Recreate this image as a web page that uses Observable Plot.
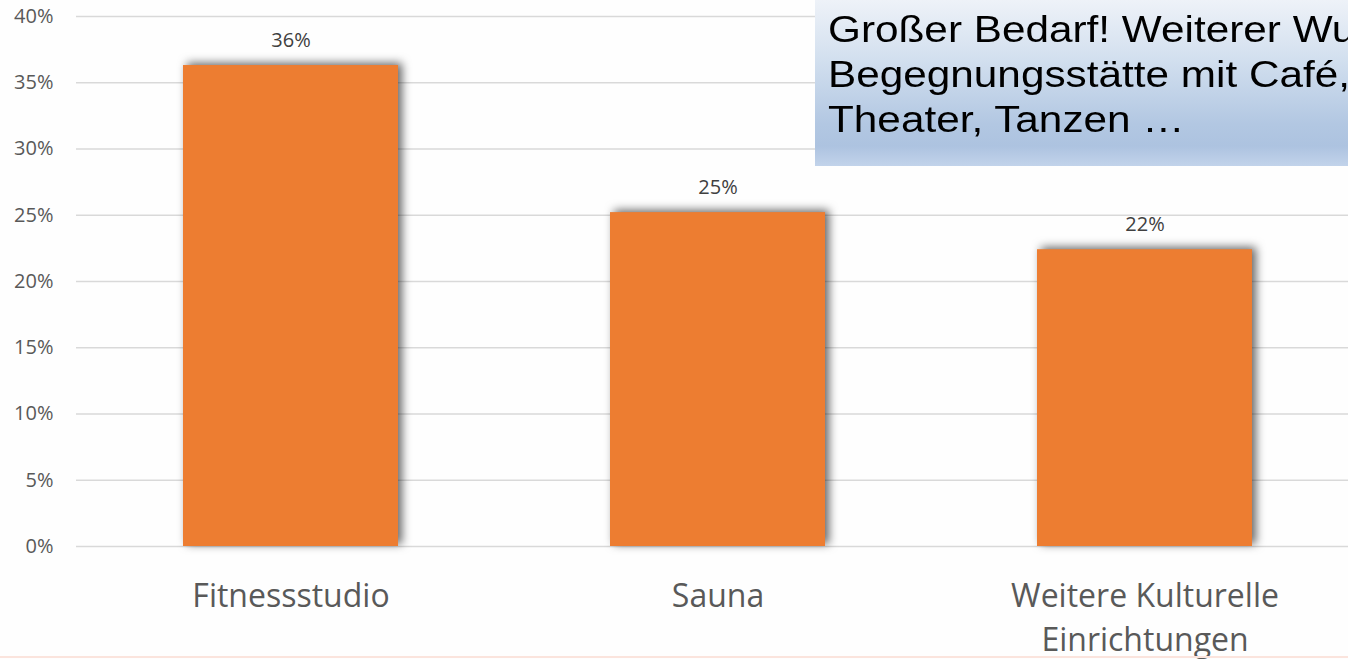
<!DOCTYPE html>
<html>
<head>
<meta charset="utf-8">
<script src="https://cdn.jsdelivr.net/npm/d3@7"></script>
<script src="https://cdn.jsdelivr.net/npm/@observablehq/plot@0.6"></script>
<style>
  html, body { margin: 0; padding: 0; background: #ffffff; overflow: hidden; }
  #wrap { position: relative; width: 1348px; height: 659px; overflow: hidden; background: #fefefe; }
  #box {
    position: absolute; left: 815px; top: 0; width: 640px; height: 159px;
    padding: 7px 0 0 0;
    background: linear-gradient(#eef2f8 0%, #d3e0ef 35%, #b2c7e2 75%, #adc3e0 88%, #c2d3ea 100%);
    overflow: hidden;
  }
  #boxtext {
    margin-left: 13px;
    font-family: "Liberation Sans", Arial, sans-serif; font-size: 36px; line-height: 45px;
    color: #000; white-space: nowrap;
    transform: scaleX(1.175); transform-origin: 0 0;
  }
  #bottomline { position: absolute; left: 0; top: 656px; width: 1348px; height: 2px; background: #fbe4dd; }
</style>
</head>
<body>
<div id="wrap">
  <div id="chart"></div>
  <div id="box"><div id="boxtext">Großer Bedarf! Weiterer Wunsch:<br>Begegnungsstätte mit Café, Kino,<br>Theater, Tanzen …</div></div>
  <div id="bottomline"></div>
</div>
<script>
const categories = ["Fitnessstudio", "Sauna", "Weitere Kulturelle\nEinrichtungen"];
const values = [0.363, 0.252, 0.224];
const valueLabels = ["36%", "25%", "22%"];
const yTicks = [0, 0.05, 0.10, 0.15, 0.20, 0.25, 0.30, 0.35, 0.40];

const data = categories.map((c, i) => ({category: c, value: values[i], label: valueLabels[i]}));

const chart = Plot.plot({
  width: 1348,
  height: 659,
  marginLeft: 76,
  marginRight: 0,
  marginTop: 16,
  marginBottom: 113,
  style: {fontFamily: "'Open Sans', sans-serif", background: "transparent", overflow: "visible"},
  x: {type: "band", domain: categories, range: [76, 1358], paddingInner: 0.497, paddingOuter: 0.2485, label: null},
  y: {domain: [0, 0.4], range: [546, 16], label: null},
  marks: [
    Plot.ruleY(yTicks, {stroke: "#d9d9d9", strokeWidth: 1.5}),
    Plot.barY(data, {x: "category", y: "value", fill: "#ED7D31"}),
    Plot.text(data, {x: "category", y: "value", text: "label", dy: -25, lineAnchor: "middle", fontSize: 20, fill: "#404040"}),
    Plot.axisY({ticks: yTicks, tickFormat: d3.format(".0%"), tickSize: 0, tickPadding: 23, fontSize: 20, fill: "#595959", label: null}),
    Plot.axisX({tickSize: 0, tickPadding: 29, fontSize: 32, fill: "#595959", lineHeight: 1.38, label: null})
  ]
});

chart.querySelectorAll('g[aria-label="bar"]').forEach(g => {
  g.style.filter = "drop-shadow(4px -2px 5px rgba(0,0,0,0.6))";
});

document.getElementById("chart").appendChild(chart);
</script>
</body>
</html>
